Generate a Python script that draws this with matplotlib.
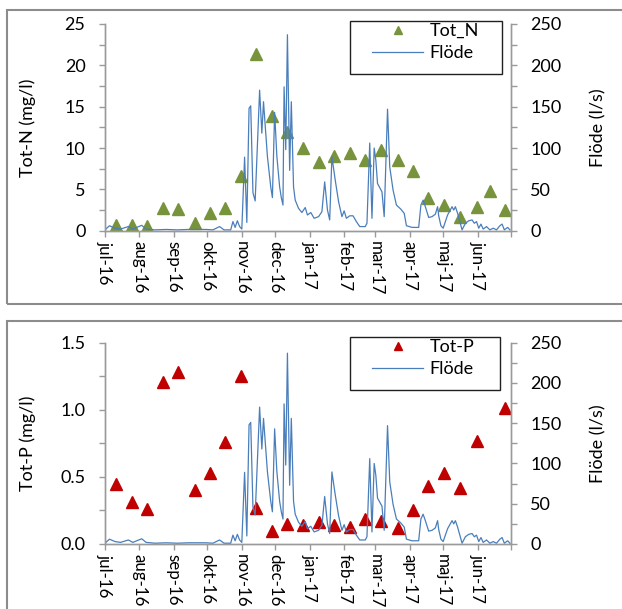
import numpy as np
import matplotlib
matplotlib.use("Agg")
import matplotlib.pyplot as plt
from matplotlib.patches import Rectangle
from matplotlib.lines import Line2D
from matplotlib.ticker import MultipleLocator, FixedLocator

plt.rcParams['font.family'] = ['Lato', 'DejaVu Sans']

# ---- data -------------------------------------------------------------
start = np.datetime64('2016-07-01')

sample_dates = ['2016-07-11', '2016-07-25', '2016-08-08', '2016-08-22', '2016-09-05',
                '2016-09-20', '2016-10-03', '2016-10-17', '2016-10-31', '2016-11-14',
                '2016-11-28', '2016-12-12', '2016-12-26', '2017-01-09', '2017-01-23',
                '2017-02-06', '2017-02-20', '2017-03-06', '2017-03-21', '2017-04-04',
                '2017-04-17', '2017-05-02', '2017-05-16', '2017-05-31', '2017-06-12',
                '2017-06-26']

tot_n = [0.7, 0.7, 0.6, 2.8, 2.6, 0.9, 2.1, 2.7, 6.6, 21.4,
         13.9, 11.9, 10.0, 8.3, 9.0, 9.4, 8.5, 9.8, 8.5, 7.2,
         4.0, 3.1, 1.7, 2.9, 4.8, 2.5]

tot_p = [0.45, 0.31, 0.26, 1.21, 1.28, 0.40, 0.53, 0.76, 1.25, 0.27,
         0.10, 0.15, 0.14, 0.166, 0.14, 0.13, 0.19, 0.17, 0.12, 0.25,
         0.435, 0.53, 0.42, 0.77, np.nan, 1.01]

# flow (l/s): days after 2016-07-01 and the flow at that day
flow_day = [0, 4, 9, 14, 21, 25, 33, 37, 45, 55, 65, 75, 91, 97, 103, 107, 113,
            115, 117, 119, 121, 123, 125.5, 127.5, 129.5, 131, 133, 135, 139, 141,
            142.5, 146, 149, 150.5, 152.5, 154.5, 157, 158.5, 160, 161, 162.5, 164,
            166, 167.5, 169.5, 171, 174, 177, 180, 182, 185, 188, 192, 195, 197.5,
            200, 202, 204, 207, 210, 213, 215, 217, 220, 223, 226, 229, 234, 235.5,
            238, 240, 242, 243.5, 245, 249, 251, 254, 256, 259, 262, 266, 269, 271,
            276, 282, 284, 286, 288, 291, 294, 297, 299, 300, 302, 304, 308, 312,
            313.5, 315, 317, 319, 321, 324, 327, 330, 332, 334, 336, 338, 340, 343,
            346, 349, 352, 355, 357, 359, 362, 364]
flow = [1, 6, 3, 2, 5, 2, 6.5, 2, 1, 1.5, 1, 1.5, 1.5, 1, 5, 1, 1,
        11, 4, 12, 5, 2, 89, 10, 148, 151, 46, 36, 170, 118,
        156, 90, 53, 40, 143, 90, 53, 40, 31, 174, 98, 237,
        73, 156, 53, 37, 27, 22, 28, 19, 22, 15, 17, 23, 59,
        25, 13, 89.5, 61, 35, 17, 24, 15, 18, 18, 11, 5, 5, 9,
        106, 15, 100, 85, 57, 47, 17, 147, 77, 49, 31, 26, 21, 6,
        4, 4, 31, 37, 29, 16, 17, 20, 29, 18, 6, 3, 19, 29,
        25, 29, 21, 11, 1, 9, 12, 13, 9, 11, 3, 8, 2, 5,
        1, 3, 1, 6, 8, 1, 4, 1]

month_labels = ['jul-16', 'aug-16', 'sep-16', 'okt-16', 'nov-16', 'dec-16',
                'jan-17', 'feb-17', 'mar-17', 'apr-17', 'maj-17', 'jun-17']

# ---- conversion to dates ---------------------------------------------
sample_t = np.array(sample_dates, dtype='datetime64[D]')
flow_t = start + (np.array(flow_day) * 24).astype(int).astype('timedelta64[h]')
month_t = np.arange(np.datetime64('2016-07'), np.datetime64('2017-08'),
                    dtype='datetime64[M]').astype('datetime64[D]')
end = np.datetime64('2017-07-01')

W, H = 622, 609
fig = plt.figure(figsize=(W / 100, H / 100), dpi=100)

GRAY = '#8c8c8c'
SPINE = '#9a9a9a'
FLOW_C = '#4a7ebb'
FS = 13
FS_X = 12.2


def fig_rect(x0, y0, x1, y1, **kw):
    """Rectangle given in pixel coordinates measured from the top-left corner."""
    fig.patches.append(Rectangle((x0 / W, 1 - y1 / H), (x1 - x0) / W, (y1 - y0) / H,
                                 transform=fig.transFigure, fill=False, **kw))


# chart frames
fig_rect(7, 10, 700, 304, edgecolor=GRAY, lw=1.5)
fig_rect(7, 320.5, 700, 700, edgecolor=GRAY, lw=1.5)


def panel(top_px, bot_px, values, color, label, ylabel, ymax, ystep, fmt, leg_box):
    ax = fig.add_axes([105 / W, 1 - bot_px / H, 406 / W, (bot_px - top_px) / H])
    ax2 = ax.twinx()
    ax.plot(sample_t, values, linestyle='none', marker='^', ms=8,
            color=color, mec=color)
    ax2.plot(flow_t, flow, color=FLOW_C, lw=0.9)

    ax.set_xlim(start, end)
    ax.set_ylim(0, ymax)
    ax2.set_ylim(0, 250)
    ax.yaxis.set_major_locator(MultipleLocator(ystep))
    ax.yaxis.set_minor_locator(MultipleLocator(ystep / 2))
    ax.yaxis.set_major_formatter(plt.FuncFormatter(lambda v, p: fmt.format(v)))
    ax2.yaxis.set_major_locator(MultipleLocator(50))
    ax2.yaxis.set_minor_locator(MultipleLocator(25))

    ax.xaxis.set_major_locator(FixedLocator(matplotlib.dates.date2num(month_t)))
    ax.set_xticklabels(month_labels + [''], rotation=-90, fontsize=FS_X,
                       ha='center', va='top')

    for a in (ax, ax2):
        a.spines['top'].set_visible(False)
        for s in ('left', 'right', 'bottom'):
            a.spines[s].set_color(SPINE)
            a.spines[s].set_linewidth(1.0)
        a.tick_params(axis='both', which='major', length=4, width=1.0,
                      color=SPINE, labelcolor='black')
        a.tick_params(axis='y', labelsize=FS)
        a.tick_params(axis='y', which='minor', length=4, width=1.0, color=SPINE)
    ax.tick_params(axis='x', labelsize=FS_X, pad=3.5)
    ax.tick_params(axis='y', pad=10)
    ax2.tick_params(axis='y', pad=10)

    ax.set_ylabel(ylabel, fontsize=FS)
    ax.yaxis.set_label_coords(-0.17, 0.5)
    ax2.set_ylabel('Flöde (l/s)', fontsize=FS)
    ax2.yaxis.set_label_coords(1.195, 0.5)

    # legend: entries without frame, box drawn separately
    x0, y0, x1, y1 = leg_box
    fig_rect(x0, y0, x1, y1, edgecolor='#202020', lw=1.0, zorder=5)
    handles = [Line2D([], [], linestyle='none', marker='^', ms=6,
                      color=color, mec=color),
               Line2D([], [], color=FLOW_C, lw=0.9)]
    ax2.legend(handles, [label, 'Flöde'], loc='upper left',
               bbox_to_anchor=((x0 + 22) / W, 1 - (y0 + 2) / H),
               bbox_transform=fig.transFigure, fontsize=FS,
               frameon=False, handlelength=2.85, handletextpad=0.35,
               borderpad=0, labelspacing=0.33, borderaxespad=0)
    return ax, ax2


panel(24, 230.7, tot_n, '#77933c', 'Tot_N', 'Tot-N (mg/l)', 25, 5, '{:.0f}',
      (350, 21, 502, 74))
panel(342.7, 544, tot_p, '#c00000', 'Tot-P', 'Tot-P (mg/l)', 1.5, 0.5, '{:.1f}',
      (350, 337, 500, 390))

fig.savefig('out.png', dpi=100)
